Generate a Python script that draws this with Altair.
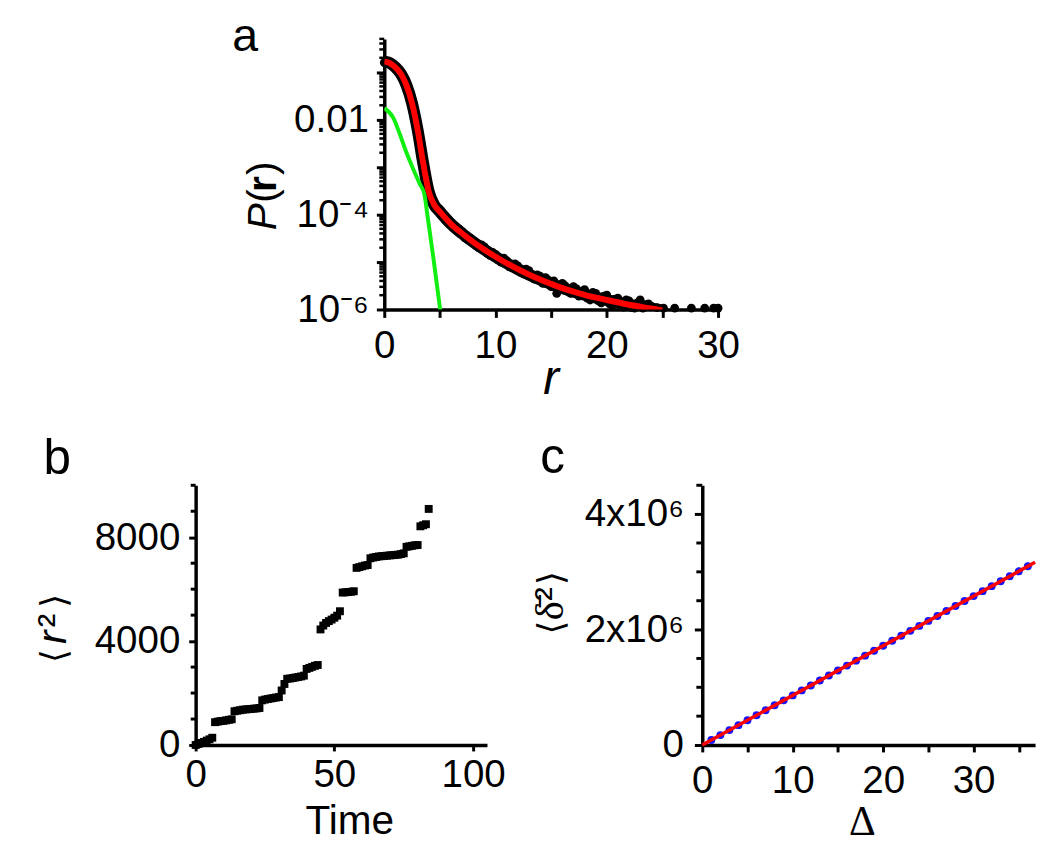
import altair as alt
import pandas as pd

FONT = "Liberation Sans"
SERIF = "Liberation Serif"
TICK_FS = 39
TITLE_FS = 41

# ---------------- panel a : P(r) ----------------
fit_r = [0, 0.5, 1, 1.5, 2, 2.5, 3, 3.5, 4, 4.5, 5, 6, 7, 8, 9, 10, 12, 14, 16, 18, 20, 22, 24, 25]
fit_logp = [-0.78, -0.81, -0.90, -1.04, -1.28, -1.66, -2.22, -2.92, -3.52, -3.80, -3.94, -4.20,
            -4.40, -4.58, -4.74, -4.89, -5.15, -5.37, -5.55, -5.69, -5.80, -5.90, -5.98, -6.02]
comp_r = [0, 0.8, 1.4, 2, 2.6, 3.2, 3.6, 3.9, 4.4, 5.05]
comp_logp = [-1.76, -1.96, -2.31, -2.70, -3.04, -3.36, -3.57, -4.05, -4.89, -6.05]
pts_r = [0, 0.5, 1, 1.5, 2, 2.5, 3, 3.5, 4, 4.5, 5, 5.5, 6, 6.5, 7, 7.5, 8, 8.5, 9, 9.5,
         10, 10.5, 11, 11.5, 12, 12.5, 13, 13.5, 14, 14.5, 15, 15.5, 16, 16.5, 17, 17.5,
         18, 18.5, 19, 19.5, 20, 20.5, 21, 21.5, 22, 22.5, 23, 23.5, 24,
         24.5, 25.1, 26.1, 27.6, 28.8, 29.6, 30]
pts_logp = [-0.80, -0.83, -0.92, -1.07, -1.31, -1.70, -2.28, -2.98, -3.58, -3.85, -3.97, -4.12,
            -4.17, -4.33, -4.36, -4.53, -4.55, -4.70, -4.68, -4.86, -4.84, -5.00, -4.97, -5.12,
            -5.08, -5.25, -5.18, -5.36, -5.30, -5.33, -5.52, -5.66, -5.45, -5.62, -5.52, -5.72,
            -5.58, -5.80, -5.66, -5.86, -5.70, -5.92, -5.76, -5.95, -5.82, -5.97, -5.80, -5.90,
            -5.93, -5.96, -5.97, -5.97, -5.97, -5.97, -5.97, -5.97]
pts2_r = [5.25, 5.75, 6.25, 6.75, 7.25, 7.75, 8.25, 8.75, 9.25, 9.75, 10.25, 10.75, 11.25,
          11.75, 12.25, 12.75, 13.25, 13.75, 14.25, 14.75, 15.25, 15.75, 16.25, 16.75, 17.25,
          17.75, 18.25, 18.75, 19.25, 19.75, 20.25, 20.75, 21.25, 21.75, 22.25, 22.75, 23.25,
          23.75]
pts2_logp = [-4.04, -4.10, -4.29, -4.31, -4.49, -4.50, -4.66, -4.64, -4.82, -4.80, -4.96, -4.92,
             -5.10, -5.04, -5.22, -5.15, -5.32, -5.27, -5.45, -5.38, -5.40, -5.58, -5.50, -5.66,
             -5.56, -5.62, -5.76, -5.64, -5.82, -5.72, -5.88, -5.78, -5.93, -5.80, -5.96, -5.86,
             -5.97, -5.88]
a_xticks = [0, 5, 10, 15, 20, 25, 30]
a_ymajor = [1e-6, 1e-5, 1e-4, 1e-3, 1e-2, 1e-1]
a_yminor = [k * 10.0 ** d for d in range(-6, 0) for k in range(2, 10) if k * 10.0 ** d <= 0.5]

# ---------------- panel b : <r^2> vs time ----------------
b_time = list(range(85))
b_r2 = [0, 40, 80, 120, 170, 220, 280, 880, 900, 920, 930, 950, 970, 990,
        1300, 1320, 1340, 1360, 1370, 1380, 1390, 1400, 1410, 1425,
        1720, 1750, 1770, 1790, 1810, 1830, 1845, 2100, 2350, 2550,
        2560, 2580, 2600, 2620, 2640, 2670, 2930, 2970, 3010, 3050, 3080,
        4450, 4600, 4700, 4770, 4830, 4900, 4980, 5150,
        5870, 5880, 5890, 5900, 5920, 6820, 6850, 6880, 6910, 6930,
        7190, 7220, 7240, 7260, 7270, 7280, 7290, 7300, 7310, 7320, 7330, 7350, 7380,
        7630, 7650, 7670, 7690, 7700, 8420, 8460, 8500, 9090]
b_xticks = [0, 50, 100]
b_ymajor = [0, 4000, 8000]
b_yminor = [1000, 2000, 3000, 5000, 6000, 7000, 9000, 10000]

# ---------------- panel c : time-averaged MSD ----------------
c_delta = list(range(1, 37))
c_msd = [86000, 172000, 258000, 344000, 430000, 516000, 602000, 688000, 774000, 860000,
         946000, 1032000, 1118000, 1204000, 1290000, 1376000, 1462000, 1548000, 1634000,
         1720000, 1806000, 1892000, 1978000, 2064000, 2150000, 2236000, 2322000, 2408000,
         2494000, 2580000, 2666000, 2752000, 2838000, 2924000, 3010000, 3096000]
c_fit_delta = [0, 36.8]
c_fit_msd = [0, 3165000]
c_xticks = [0, 5, 10, 15, 20, 25, 30, 35]
c_ymajor = [0, 2000000, 4000000]
c_yminor = [500000, 1000000, 1500000, 2500000, 3000000, 3500000, 4500000]


def label(s, x, y, size, font=FONT, style="normal", weight="normal", angle=0,
          align="left", baseline="alphabetic"):
    df = pd.DataFrame({"s": [s]})
    return alt.Chart(df).mark_text(
        align=align, baseline=baseline, angle=angle, font=font, fontSize=size,
        fontStyle=style, fontWeight=weight, color="black"
    ).encode(x=alt.value(x), y=alt.value(y), text="s:N")


def minor_ticks(values, Y, length, width):
    df = pd.DataFrame({"v": values})
    return alt.Chart(df).mark_rule(color="black", strokeWidth=width).encode(
        y=Y, x=alt.value(-length), x2=alt.value(0))


# ---------- build panel a ----------
a_W, a_H = 338, 274
ax_scale = alt.Scale(domain=[0, 30], nice=False, zero=False)
ay_scale = alt.Scale(type="log", domain=[1e-6, 0.5], nice=False)
ax_axis = alt.Axis(values=a_xticks, labelExpr="datum.value % 10 == 0 ? datum.label : ''",
                   tickSize=8, labelPadding=10, labelFlush=False, labelOverlap=False, title=None)
ay_axis = alt.Axis(values=a_ymajor,
                   labelExpr="round(log(datum.value)/LN10) == -2 ? '0.01' : "
                             "round(log(datum.value)/LN10) == -4 ? '10\u207b\u2074' : "
                             "round(log(datum.value)/LN10) == -6 ? '10\u207b\u2076' : ''",
                   tickSize=8, labelPadding=8, labelFlush=False, labelOverlap=False,
                   minExtent=160, maxExtent=160, title=None)
aX = alt.X("x:Q", scale=ax_scale, axis=ax_axis)
aY = alt.Y("v:Q", scale=ay_scale, axis=ay_axis)

df_fit = pd.DataFrame({"x": fit_r, "v": [10 ** v for v in fit_logp]})
df_comp = pd.DataFrame({"x": comp_r, "v": [10 ** v for v in comp_logp]})
df_pts = pd.DataFrame({"x": pts_r + pts2_r, "v": [10 ** v for v in pts_logp + pts2_logp]})

a_pts = alt.Chart(df_pts).mark_circle(size=80, color="black", opacity=1).encode(x=aX, y=aY)
a_black = alt.Chart(df_fit).mark_line(color="black", strokeWidth=12, interpolate="monotone",
                                      clip=True).encode(x=aX, y=aY)
a_red = alt.Chart(df_fit).mark_line(color="#ff0000", strokeWidth=6, interpolate="monotone",
                                    clip=True).encode(x=aX, y=aY)
a_green = alt.Chart(df_comp).mark_line(color="#11ee11", strokeWidth=4, interpolate="monotone",
                                       clip=True).encode(x=aX, y=aY)
a_minor = minor_ticks(a_yminor, aY, 5, 2.5)

panel_a = alt.layer(
    a_minor, a_black, a_pts, a_red, a_green,
    label("a", -154, 12, 47),
    label("P", -110, 180, TITLE_FS, style="italic", angle=270, align="center"),
    label("(", -110, 159, TITLE_FS, angle=270, align="center"),
    label("r", -110, 147, TITLE_FS, weight="bold", angle=270, align="center"),
    label(")", -110, 131, TITLE_FS, angle=270, align="center"),
    label("r", a_W / 2, 360, 48, style="italic", align="center"),
).properties(width=a_W, height=a_H)

spacer = alt.Chart(pd.DataFrame({"x": [0]})).mark_point(opacity=0).encode(
    x=alt.X("x:Q", axis=None), y=alt.Y("x:Q", axis=None)
).properties(width=31, height=10)

# ---------- build panel b ----------
b_W, b_H = 295, 263
bx_scale = alt.Scale(domain=[0, 105], nice=False, zero=False)
by_scale = alt.Scale(domain=[0, 10000], nice=False)
bx_axis = alt.Axis(values=b_xticks, format="d", tickSize=6, labelPadding=5, labelFlush=False,
                   labelOverlap=False, title=None)
by_axis = alt.Axis(values=b_ymajor, format="d", tickSize=7, labelPadding=9, labelFlush=False,
                   labelOverlap=False, minExtent=185, maxExtent=185, title=None)
bX = alt.X("x:Q", scale=bx_scale, axis=bx_axis)
bY = alt.Y("v:Q", scale=by_scale, axis=by_axis)
df_b = pd.DataFrame({"x": b_time, "v": b_r2})
b_pts = alt.Chart(df_b).mark_square(size=64, color="black", opacity=1).encode(x=bX, y=bY)
b_minor = minor_ticks(b_yminor, bY, 5, 3)
panel_b = alt.layer(
    b_minor, b_pts,
    label("b", -154, -11, 50),
    label("\u27e8", -131, 173, 36, font="DejaVu Sans", angle=270, align="center"),
    label("r", -131, 154, TITLE_FS, style="italic", angle=270, align="center"),
    label("\u00b2", -131, 137, TITLE_FS, angle=270, align="center"),
    label("\u27e9", -131, 117, 36, font="DejaVu Sans", angle=270, align="center"),
    label("Time", 156, 353, TITLE_FS, align="center"),
).properties(width=b_W, height=b_H)

# ---------- build panel c ----------
c_W, c_H = 337, 263
cx_scale = alt.Scale(domain=[0, 36.8], nice=False, zero=False)
cy_scale = alt.Scale(domain=[0, 4500000], nice=False)
cx_axis = alt.Axis(values=c_xticks, labelExpr="datum.value % 10 == 0 ? datum.label : ''",
                   tickSize=7, labelPadding=10, labelFlush=False, labelOverlap=False, title=None)
cy_axis = alt.Axis(values=c_ymajor,
                   labelExpr="datum.value == 0 ? '0' : datum.value == 2000000 ? "
                             "'2x10\u2076' : '4x10\u2076'",
                   tickSize=8, labelPadding=11, labelFlush=False, labelOverlap=False,
                   minExtent=189, maxExtent=189, title=None)
cX = alt.X("x:Q", scale=cx_scale, axis=cx_axis)
cY = alt.Y("v:Q", scale=cy_scale, axis=cy_axis)
df_c = pd.DataFrame({"x": c_delta, "v": c_msd})
df_cfit = pd.DataFrame({"x": c_fit_delta, "v": c_fit_msd})
c_pts = alt.Chart(df_c).mark_circle(size=64, color="#1414ff", opacity=1).encode(x=cX, y=cY)
c_line = alt.Chart(df_cfit).mark_line(color="#ff0000", strokeWidth=3.5).encode(x=cX, y=cY)
c_minor = minor_ticks(c_yminor, cY, 6, 3)
panel_c = alt.layer(
    c_minor, c_pts, c_line,
    label("c", -164, -12, 50),
    label("\u27e8", -141, 144, 36, font="DejaVu Sans", angle=270, align="center"),
    label("\u03b4\u0304", -141, 127, TITLE_FS, font=SERIF, angle=270, align="center"),
    label("\u00b2", -141, 110, TITLE_FS, angle=270, align="center"),
    label("\u27e9", -141, 94, 36, font="DejaVu Sans", angle=270, align="center"),
    label("\u0394", 162, 354, 42, font=SERIF, align="center"),
).properties(width=c_W, height=c_H)

chart = alt.vconcat(
    alt.hconcat(spacer, panel_a, spacing=0),
    alt.hconcat(panel_b, panel_c, spacing=10),
    spacing=30,
).properties(
    padding={"left": 5, "top": 0, "right": 0, "bottom": 0}
).configure_view(strokeWidth=0).configure_axis(
    domainColor="black", domainWidth=3.5, tickColor="black", tickWidth=3,
    labelFont=FONT, labelFontSize=TICK_FS, labelColor="black", grid=False
)

chart.save("out.html", embed_options={"renderer": "svg", "actions": False})
